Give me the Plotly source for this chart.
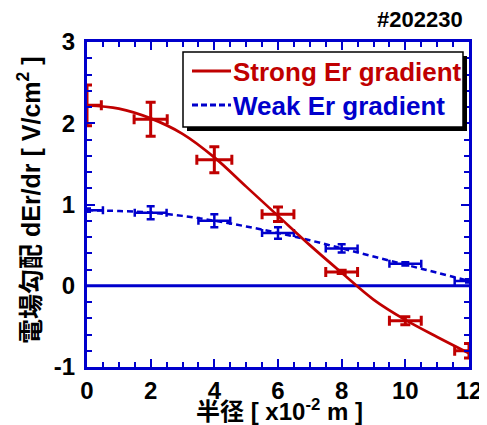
import plotly.graph_objects as go

# Data
radius = [0, 2, 4, 6, 8, 10, 12]
strong_y = [2.22, 2.05, 1.55, 0.88, 0.17, -0.43, -0.80]
strong_yerr = [0.25, 0.21, 0.16, 0.09, 0.02, 0.05, 0.09]
strong_xerr = [0.45, 0.52, 0.55, 0.5, 0.5, 0.5, 0.45]
weak_y = [0.93, 0.90, 0.80, 0.65, 0.46, 0.27, 0.06]
weak_yerr = [0.02, 0.08, 0.08, 0.07, 0.05, 0.02, 0.02]
weak_xerr = [0.5, 0.5, 0.5, 0.5, 0.5, 0.5, 0.45]

fit_x = [0, 1, 2, 3, 4, 5, 6, 7, 8, 9, 10, 11, 12]
strong_fit = [2.22, 2.18, 2.06, 1.87, 1.58, 1.22, 0.86, 0.50, 0.16, -0.17, -0.42, -0.63, -0.83]
weak_fit = [0.93, 0.92, 0.90, 0.86, 0.80, 0.73, 0.65, 0.56, 0.46, 0.36, 0.26, 0.16, 0.06]

x_ticks = [0, 2, 4, 6, 8, 10, 12]
y_ticks = [-1, 0, 1, 2, 3]

RED = "#c00000"
BLUE = "#0000cc"
FONT = "Liberation Sans, Arial, Noto Sans CJK JP"

fig = go.Figure()

fig.add_trace(go.Scatter(x=[0, 12], y=[0, 0], mode="lines",
                         line=dict(color=BLUE, width=3), hoverinfo="skip"))

fig.add_trace(go.Scatter(x=fit_x, y=weak_fit, mode="lines", line_shape="spline",
                         line=dict(color=BLUE, width=2.5, dash="6px,4px")))
fig.add_trace(go.Scatter(x=radius, y=weak_y, mode="markers", marker=dict(size=1, color=BLUE),
                         error_y=dict(type="data", array=weak_yerr, color=BLUE, thickness=2.5, width=4),
                         error_x=dict(type="data", array=weak_xerr, color=BLUE, thickness=2.5, width=4)))

fig.add_trace(go.Scatter(x=fit_x, y=strong_fit, mode="lines", line_shape="spline",
                         line=dict(color=RED, width=2.7)))
fig.add_trace(go.Scatter(x=radius, y=strong_y, mode="markers", marker=dict(size=1, color=RED),
                         error_y=dict(type="data", array=strong_yerr, color=RED, thickness=3, width=5),
                         error_x=dict(type="data", array=strong_xerr, color=RED, thickness=3, width=5)))

# plot area in screen pixels (page body has an 8px margin)
OFF = 8
L, R, T, B = 87, 469, 42, 367
W, H = 487 - OFF, 425 - OFF


def px(x):
    return (x - L) / (R - L)


def py(y):
    return (B - y) / (B - T)


shapes = []
# legend shadow and box
shapes.append(dict(type="rect", xref="paper", yref="paper", x0=px(187), x1=px(467), y0=py(131), y1=py(56),
                   fillcolor="black", line=dict(width=0)))
shapes.append(dict(type="rect", xref="paper", yref="paper", x0=px(183), x1=px(463), y0=py(127), y1=py(52),
                   fillcolor="white", line=dict(color="black", width=1.5)))
shapes.append(dict(type="line", xref="paper", yref="paper", x0=px(192), x1=px(231), y0=py(71), y1=py(71),
                   line=dict(color=RED, width=3)))
shapes.append(dict(type="line", xref="paper", yref="paper", x0=px(192), x1=px(231), y0=py(105), y1=py(105),
                   line=dict(color=BLUE, width=3, dash="6px,3px")))

annotations = [
    dict(text="Strong Er gradient", xref="paper", yref="paper", x=px(231), y=py(72), xanchor="left",
         yanchor="middle", showarrow=False, font=dict(family=FONT, size=26, color=RED, weight="bold")),
    dict(text="Weak Er gradient", xref="paper", yref="paper", x=px(231), y=py(106), xanchor="left",
         yanchor="middle", showarrow=False, font=dict(family=FONT, size=26, color=BLUE, weight="bold")),
    dict(text="#202230", xref="paper", yref="paper", x=px(465), y=py(19), xanchor="right",
         yanchor="middle", showarrow=False, font=dict(family=FONT, size=22, color="black", weight="bold")),
    dict(text="半径 [ x10<sup>-2</sup> m ]", xref="paper", yref="paper", x=px(279), y=py(410),
         xanchor="center", yanchor="middle", showarrow=False,
         font=dict(family=FONT, size=24, color="black", weight="bold")),
    dict(text="電場勾配 dEr/dr [ V/cm<sup>2</sup> ]", xref="paper", yref="paper", x=px(29), y=py(200),
         xanchor="center", yanchor="middle", textangle=-90, showarrow=False,
         font=dict(family=FONT, size=25, color="black", weight="bold")),
]

axis_common = dict(showline=True, linecolor=BLUE, linewidth=3, mirror="ticks", ticks="inside",
                   tickcolor=BLUE, tickwidth=2, ticklen=8, showgrid=False, zeroline=False,
                   automargin=False, ticklabeloverflow="allow",
                   tickfont=dict(family=FONT, size=24, color="black", weight="bold"))

fig.update_layout(
    width=W, height=H, margin=dict(l=L - OFF, r=487 - R, t=T - OFF, b=425 - B),
    plot_bgcolor="white", paper_bgcolor="white", showlegend=False,
    shapes=shapes, annotations=annotations,
    xaxis=dict(range=[0, 12], tickvals=x_ticks, ticktext=[str(v) for v in x_ticks],
               minor=dict(dtick=0.5, ticks="inside", ticklen=5, tickcolor=BLUE, tickwidth=2),
               **axis_common),
    yaxis=dict(range=[-1, 3], tickvals=y_ticks, ticktext=[str(v) for v in y_ticks],
               minor=dict(dtick=0.2, ticks="inside", ticklen=5, tickcolor=BLUE, tickwidth=2),
               ticklabelstandoff=4,
               **axis_common),
)

fig.write_html("out.html")
